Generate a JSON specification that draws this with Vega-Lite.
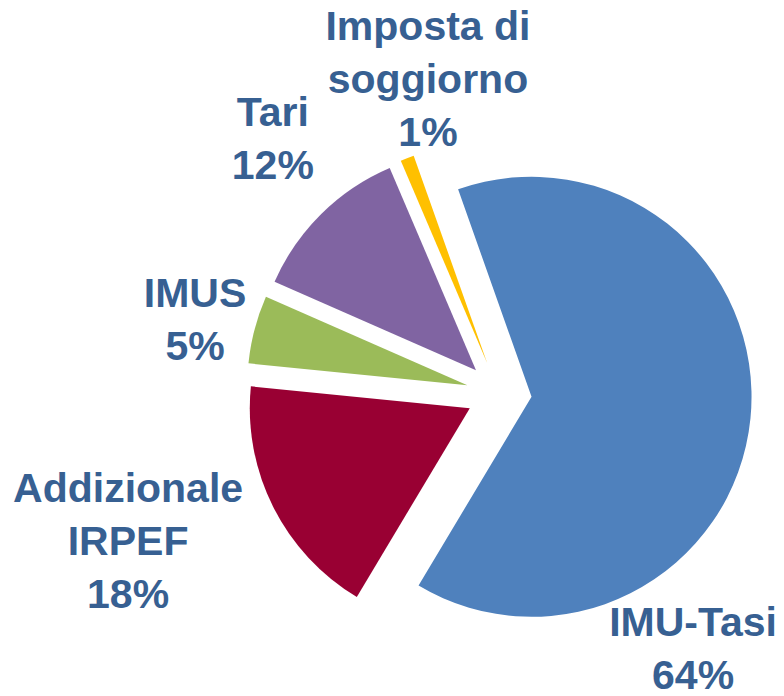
{
  "$schema": "https://vega.github.io/schema/vega-lite/v6.json",
  "width": 784,
  "height": 696,
  "autosize": "none",
  "padding": 0,
  "background": "white",
  "config": {"view": {"stroke": null}},
  "data": {
    "values": [
      {"cat": "IMU-Tasi", "label": "IMU-Tasi", "value": 64, "idx": 1},
      {"cat": "Addizionale IRPEF", "label": "Addizionale\nIRPEF", "value": 18, "idx": 2},
      {"cat": "IMUS", "label": "IMUS", "value": 5, "idx": 3},
      {"cat": "Tari", "label": "Tari", "value": 12, "idx": 4},
      {"cat": "Imposta di soggiorno", "label": "Imposta di\nsoggiorno", "value": 1, "idx": 5}
    ]
  },
  "transform": [
    {"window": [{"op": "sum", "field": "value", "as": "cum"}], "sort": [{"field": "idx"}], "frame": [null, 0]},
    {"calculate": "datum.cum - datum.value", "as": "s"},
    {"calculate": "(-19.5 + 3.6 * (datum.s + datum.value / 2)) * PI / 180", "as": "mid"},
    {"calculate": "32.7 * sin(datum.mid)", "as": "ex"},
    {"calculate": "32.7 * cos(datum.mid)", "as": "ey"},
    {"calculate": "datum.cat === 'IMU-Tasi' ? 139.9 : datum.cat === 'Addizionale IRPEF' ? 255.4 : datum.cat === 'IMUS' ? 288 : datum.cat === 'Tari' ? 321 : 349", "as": "la"},
    {"calculate": "datum.cat === 'IMU-Tasi' ? 301.3 : datum.cat === 'Addizionale IRPEF' ? 383.3 : datum.cat === 'IMUS' ? 319.6 : datum.cat === 'Tari' ? 359.4 : 372.3", "as": "ld"},
    {"calculate": "datum.ld * sin(datum.la * PI / 180)", "as": "lx"},
    {"calculate": "datum.ld * cos(datum.la * PI / 180)", "as": "ly"},
    {"calculate": "datum.label + '\\n' + datum.value + '%'", "as": "txt"}
  ],
  "layer": [
    {
      "mark": {"type": "arc", "outerRadius": 220},
      "encoding": {
        "theta": {"field": "s", "type": "quantitative", "stack": null, "scale": {"domain": [0, 100], "range": [-0.34034, 5.94285]}},
        "theta2": {"field": "cum"},
        "x": {"field": "ex", "type": "quantitative", "axis": null, "scale": {"domain": [-499, 285], "nice": false, "zero": false}},
        "y": {"field": "ey", "type": "quantitative", "axis": null, "scale": {"domain": [-302.5, 393.5], "nice": false, "zero": false}},
        "color": {
          "field": "cat",
          "type": "nominal",
          "legend": null,
          "scale": {
            "domain": ["IMU-Tasi", "Addizionale IRPEF", "IMUS", "Tari", "Imposta di soggiorno"],
            "range": ["#4F81BD", "#990033", "#9BBB59", "#8064A2", "#FFC000"]
          }
        }
      }
    },
    {
      "mark": {
        "type": "text",
        "font": "Liberation Sans",
        "fontSize": 41,
        "fontWeight": "bold",
        "color": "#376092",
        "align": "center",
        "baseline": "middle",
        "lineBreak": "\n",
        "lineHeight": 53
      },
      "encoding": {
        "x": {"field": "lx", "type": "quantitative", "axis": null, "scale": {"domain": [-499, 285], "nice": false, "zero": false}},
        "y": {"field": "ly", "type": "quantitative", "axis": null, "scale": {"domain": [-302.5, 393.5], "nice": false, "zero": false}},
        "text": {"field": "txt"}
      }
    }
  ]
}
